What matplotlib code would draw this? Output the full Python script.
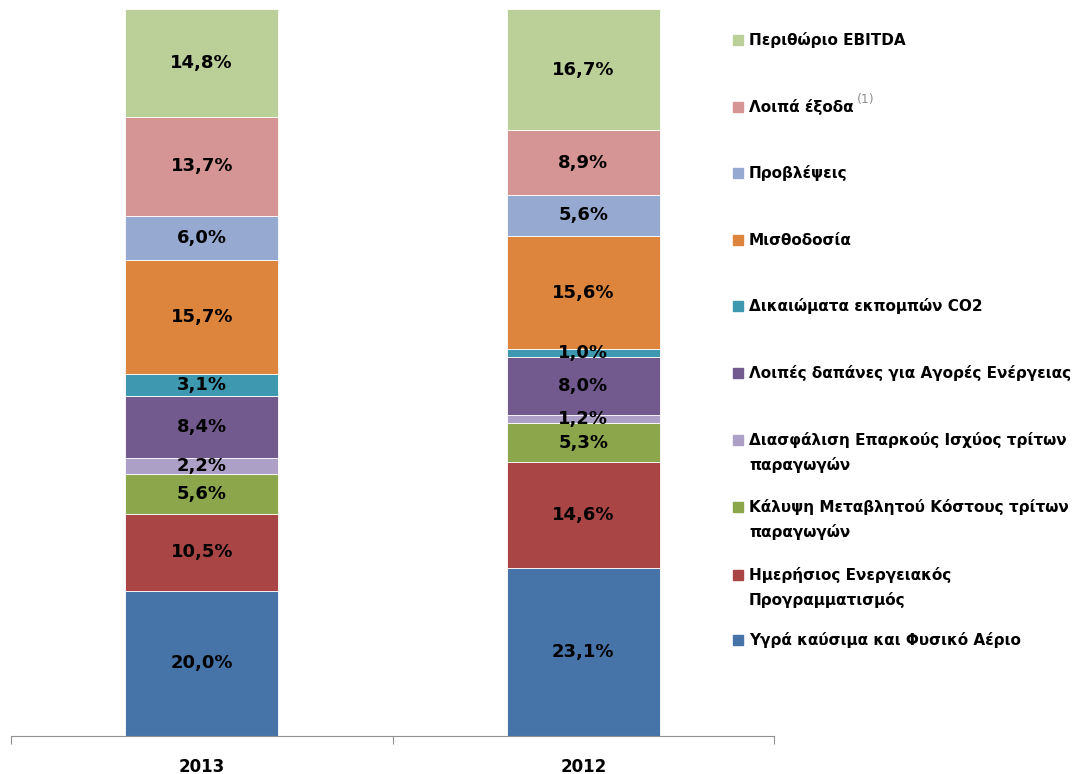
import matplotlib
matplotlib.use("Agg")
from matplotlib import pyplot as plt
from matplotlib.patches import Rectangle
import numpy as np

# bottom to top order
categories = ['2013', '2012']
series_names = [
    'Υγρά καύσιμα και Φυσικό Αέριο',
    'Ημερήσιος Ενεργειακός\nΠρογραμματισμός',
    'Κάλυψη Μεταβλητού Κόστους τρίτων\nπαραγωγών',
    'Διασφάλιση Επαρκούς Ισχύος τρίτων\nπαραγωγών',
    'Λοιπές δαπάνες για Αγορές Ενέργειας',
    'Δικαιώματα εκπομπών CO2',
    'Μισθοδοσία',
    'Προβλέψεις',
    'Λοιπά έξοδα',
    'Περιθώριο EBITDA',
]
values_2013 = [20.0, 10.5, 5.6, 2.2, 8.4, 3.1, 15.7, 6.0, 13.7, 14.8]
values_2012 = [23.1, 14.6, 5.3, 1.2, 8.0, 1.0, 15.6, 5.6, 8.9, 16.7]
colors = ['#4674A8', '#A94645', '#8BA64B', '#ADA0C6', '#725A8E',
          '#3E98AF', '#DD843D', '#95A9D1', '#D59594', '#BBCF99']

W, H = 1077, 774
fig = plt.figure(figsize=(W / 100, H / 100), dpi=100)
ax = fig.add_axes([11 / W, (H - 736) / H, (774 - 11) / W, (736 - 9) / H])

data = np.array([values_2013, values_2012])
x = np.arange(len(categories))
bottom = np.zeros(len(categories))
for i, name in enumerate(series_names):
    vals = data[:, i]
    ax.bar(x, vals, bottom=bottom, width=0.4, color=colors[i],
           edgecolor='white', linewidth=0.6)
    for xi, v, b in zip(x, vals, bottom):
        ax.text(xi, b + v / 2, ('%.1f%%' % v).replace('.', ','),
                ha='center', va='center', fontsize=13, fontweight='bold',
                color='black')
    bottom += vals

ax.set_xlim(-0.5, 1.5)
ax.set_ylim(0, 100)
for s in ['top', 'right', 'left']:
    ax.spines[s].set_visible(False)
ax.spines['bottom'].set_color('#909090')
ax.set_yticks([])
ax.set_xticks([-0.5, 0.5, 1.5])
ax.set_xticklabels([])
ax.tick_params(axis='x', direction='out', length=6, color='#909090')
for xi, c in zip(x, categories):
    ax.text(xi, -4.2, c, ha='center', va='center', fontsize=12,
            fontweight='bold')

# legend drawn by hand (top to bottom)
leg_y = [40, 107, 173, 240, 306, 373, 440, 507, 575, 640]
renderer = fig.canvas.get_renderer()
for yy, i in zip(leg_y, range(len(series_names) - 1, -1, -1)):
    fig.patches.append(Rectangle((733 / W, (H - yy - 5) / H), 10 / W, 10 / H,
                                 transform=fig.transFigure, color=colors[i]))
    for k, line in enumerate(series_names[i].split('\n')):
        t = fig.text(749 / W, (H - yy - 5 - 25 * k) / H, line, ha='left',
                     va='baseline', fontsize=11, fontweight='bold')
    if series_names[i] == 'Λοιπά έξοδα':
        bb = t.get_window_extent(renderer)
        fig.text((bb.x1 + 3) / W, (H - yy + 4) / H, '(1)', fontsize=9,
                 color='#909090')

fig.savefig('out.png', dpi=100)
